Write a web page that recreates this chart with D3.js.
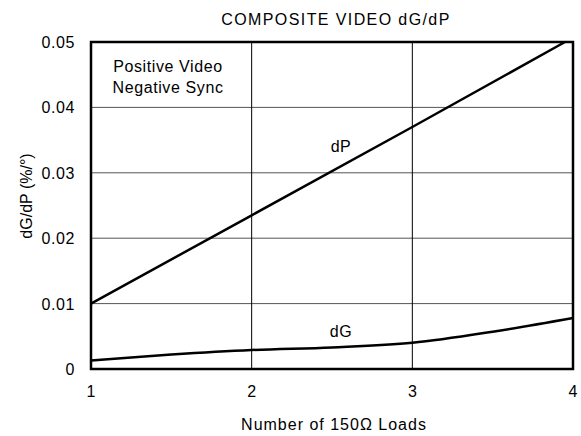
<!DOCTYPE html>
<html>
<head>
<meta charset="utf-8">
<script src="https://cdn.jsdelivr.net/npm/d3@7"></script>
<style>
  body { margin: 0; background: #fff; }
  text { font-family: "Liberation Sans", Arial, sans-serif; fill: #000; }
</style>
</head>
<body>
<svg id="chart"></svg>
<script>
// data
var loads = [1, 2, 3, 4];
var yTicks = [0, 0.01, 0.02, 0.03, 0.04, 0.05];
var dpLoads = [1, 2, 3, 3.95];
var dpValues = [0.01, 0.0235, 0.037, 0.05];
var dgLoads = [1, 1.5, 2, 2.5, 3, 3.5, 4];
var dgValues = [0.0013, 0.0022, 0.0029, 0.0033, 0.0040, 0.0057, 0.0078];

var width = 581, height = 436;
var margin = { top: 42, right: 8, bottom: 67, left: 91 };

var svg = d3.select("#chart").attr("width", width).attr("height", height);

var x = d3.scaleLinear().domain([1, 4]).range([margin.left, width - margin.right]);
var y = d3.scaleLinear().domain([0, 0.05]).range([height - margin.bottom, margin.top]);

// grid
svg.append("g").selectAll("line").data(yTicks.slice(1, -1)).enter().append("line")
  .attr("x1", x(1)).attr("x2", x(4))
  .attr("y1", function (d) { return y(d); }).attr("y2", function (d) { return y(d); })
  .attr("stroke", "#555").attr("stroke-width", 1);
svg.append("g").selectAll("line").data(loads.slice(1, -1)).enter().append("line")
  .attr("x1", function (d) { return x(d); }).attr("x2", function (d) { return x(d); })
  .attr("y1", y(0)).attr("y2", y(0.05))
  .attr("stroke", "#000").attr("stroke-width", 1);

// frame
svg.append("rect")
  .attr("x", x(1)).attr("y", y(0.05))
  .attr("width", x(4) - x(1)).attr("height", y(0) - y(0.05))
  .attr("fill", "none").attr("stroke", "#000").attr("stroke-width", 2.5);

// tick labels
svg.append("g").selectAll("text").data(yTicks).enter().append("text")
  .attr("x", 75).attr("y", function (d) { return y(d) + 6; })
  .attr("text-anchor", "end").attr("font-size", 16).attr("letter-spacing", 0.6)
  .text(function (d) { return d === 0 ? "0" : d3.format(".2f")(d); });
svg.append("g").selectAll("text").data(loads).enter().append("text")
  .attr("x", function (d) { return x(d); }).attr("y", 397)
  .attr("text-anchor", "middle").attr("font-size", 16)
  .text(function (d) { return d; });

// curves
var line = d3.line()
  .x(function (d) { return x(d[0]); })
  .y(function (d) { return y(d[1]); });

svg.append("path")
  .datum(d3.zip(dpLoads, dpValues))
  .attr("d", line.curve(d3.curveLinear))
  .attr("fill", "none").attr("stroke", "#000").attr("stroke-width", 2.5);

svg.append("path")
  .datum(d3.zip(dgLoads, dgValues))
  .attr("d", line.curve(d3.curveMonotoneX))
  .attr("fill", "none").attr("stroke", "#000").attr("stroke-width", 2.5);

// labels
function label(tx, ty, str, size, spacing) {
  return svg.append("text").attr("x", tx).attr("y", ty)
    .attr("text-anchor", "middle").attr("font-size", size)
    .attr("letter-spacing", spacing).text(str);
}
label(341, 152, "dP", 16, 0.5);
label(341, 337, "dG", 16, 0.5);
label(168, 72, "Positive Video", 16, 0.6);
label(168, 93, "Negative Sync", 16, 0.6);
label(336, 25, "COMPOSITE VIDEO dG/dP", 16, 1.4);
label(334, 430, "Number of 150\u03A9 Loads", 16, 1);

svg.append("text")
  .attr("transform", "translate(32,196) rotate(-90)")
  .attr("text-anchor", "middle").attr("font-size", 16)
  .text("dG/dP (%/\u00B0)");
</script>
</body>
</html>
